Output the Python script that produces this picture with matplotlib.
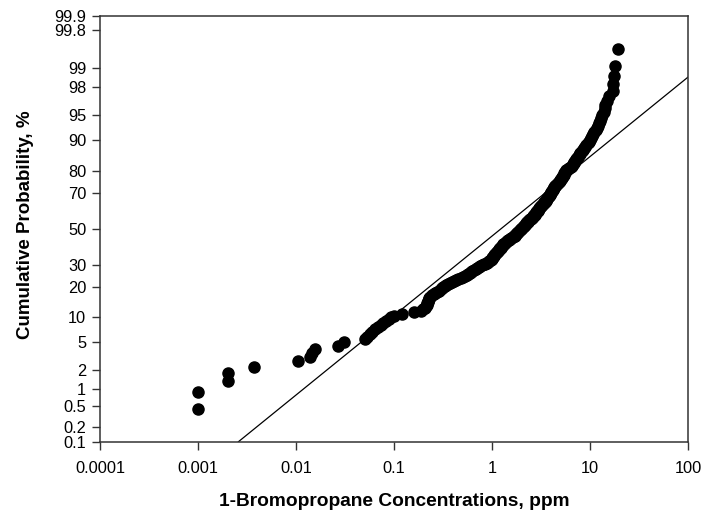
import numpy as np
import matplotlib
matplotlib.use("Agg")
import matplotlib.pyplot as plt
from matplotlib.ticker import FixedLocator, FixedFormatter, NullLocator
from statistics import NormalDist

# ---- data (sorted concentrations, ppm) ----
conc = [
    0.001, 0.001, 0.002, 0.002, 0.0037, 0.0105, 0.014, 0.0145, 0.0157, 0.027,
    0.031, 0.050, 0.053, 0.057, 0.060, 0.064, 0.068, 0.073, 0.078, 0.083,
    0.088, 0.094, 0.100, 0.12, 0.16, 0.19, 0.20, 0.205, 0.21, 0.215,
    0.218, 0.22, 0.222, 0.225, 0.23, 0.235, 0.245, 0.255, 0.265, 0.275,
    0.285, 0.30, 0.31, 0.32, 0.33, 0.34, 0.355, 0.37, 0.39, 0.41,
    0.43, 0.45, 0.48, 0.51, 0.53, 0.55, 0.57, 0.59, 0.61, 0.63,
    0.65, 0.68, 0.70, 0.73, 0.76, 0.79, 0.82, 0.85, 0.88, 0.91,
    0.94, 0.97, 0.99, 1.00, 1.01, 1.03, 1.04, 1.06, 1.08, 1.10,
    1.12, 1.13, 1.15, 1.17, 1.19, 1.21, 1.23, 1.25, 1.27, 1.29,
    1.31, 1.33, 1.36, 1.39, 1.42, 1.46, 1.50, 1.54, 1.58, 1.62,
    1.67, 1.70, 1.73, 1.76, 1.79, 1.82, 1.85, 1.88, 1.92, 1.96,
    2.00, 2.04, 2.08, 2.11, 2.14, 2.17, 2.21, 2.24, 2.28, 2.31,
    2.35, 2.39, 2.44, 2.49, 2.54, 2.60, 2.64, 2.68, 2.72, 2.76,
    2.80, 2.84, 2.88, 2.92, 2.96, 3.00, 3.04, 3.09, 3.14, 3.19,
    3.25, 3.31, 3.38, 3.43, 3.48, 3.53, 3.58, 3.63, 3.68, 3.73,
    3.78, 3.83, 3.88, 3.93, 3.98, 4.03, 4.09, 4.15, 4.20, 4.25,
    4.30, 4.35, 4.44, 4.53, 4.62, 4.71, 4.80, 4.90, 5.00, 5.08,
    5.16, 5.24, 5.32, 5.40, 5.48, 5.56, 5.64, 5.72, 5.95, 6.15,
    6.35, 6.50, 6.65, 6.80, 6.95, 7.10, 7.25, 7.40, 7.55, 7.70,
    7.85, 8.00, 8.20, 8.40, 8.60, 8.90, 9.20, 9.50, 9.80, 10.1,
    10.3, 10.5, 10.8, 11.1, 11.4, 11.7, 12.0, 12.3, 12.6, 13.0,
    13.4, 13.8, 14.1, 14.4, 15.0, 15.6, 17.2, 17.3, 17.4, 18.2,
    19.4,
]

# fitted lognormal reference line
geo_mean = 1.24     # ppm
geo_sd = 7.37

x_ticks = [0.0001, 0.001, 0.01, 0.1, 1, 10, 100]
x_tick_labels = ["0.0001", "0.001", "0.01", "0.1", "1", "10", "100"]
y_ticks = [0.1, 0.2, 0.5, 1, 2, 5, 10, 20, 30, 50, 70, 80, 90, 95, 98, 99, 99.8, 99.9]
y_tick_labels = ["0.1", "0.2", "0.5", "1", "2", "5", "10", "20", "30", "50",
                 "70", "80", "90", "95", "98", "99", "99.8", "99.9"]

# ---- probability scale ----
_nd = NormalDist()
_ppf = np.frompyfunc(lambda p: _nd.inv_cdf(min(max(p, 1e-9), 1 - 1e-9)), 1, 1)
_cdf = np.frompyfunc(lambda z: _nd.cdf(z), 1, 1)


def fwd(p):
    return np.asarray(_ppf(np.asarray(p, dtype=float) / 100.0), dtype=float)


def inv(z):
    return np.asarray(_cdf(np.asarray(z, dtype=float)), dtype=float) * 100.0


plt.rcParams['font.family'] = ['Liberation Sans', 'DejaVu Sans']

fig = plt.figure(figsize=(7.02, 5.16), dpi=100)
ax = fig.add_axes([0.1425, 0.144, 0.8375, 0.8257])

n = len(conc)
prob = [100.0 * (i + 1) / (n + 1) for i in range(n)]

# reference line
p_line = np.array([0.1, 99.9])
z_line = fwd(p_line)
x_line = geo_mean * geo_sd ** z_line
ax.plot(x_line, p_line, color='black', lw=0.9, zorder=2)

ax.plot(conc, prob, 'o', color='black', ms=8.0, mec='black', zorder=3, clip_on=False)

ax.set_xscale('log')
ax.set_yscale('function', functions=(fwd, inv))
ax.set_xlim(0.0001, 100)
ax.set_ylim(0.1, 99.9)

ax.xaxis.set_major_locator(FixedLocator(x_ticks))
ax.xaxis.set_major_formatter(FixedFormatter(x_tick_labels))
ax.xaxis.set_minor_locator(NullLocator())
ax.yaxis.set_major_locator(FixedLocator(y_ticks))
ax.yaxis.set_major_formatter(FixedFormatter(y_tick_labels))
ax.yaxis.set_minor_locator(NullLocator())

ax.tick_params(axis='both', direction='out', length=6, width=1, labelsize=11.8,
               color='#333333', pad=4)
ax.tick_params(axis='x', pad=8)
for s in ax.spines.values():
    s.set_color('#333333')
    s.set_linewidth(1.1)

ax.set_xlabel("1-Bromopropane Concentrations, ppm", fontsize=13.8, fontweight='bold', labelpad=12)
ax.set_ylabel("Cumulative Probability, %", fontsize=13.5, fontweight='bold')
ax.yaxis.set_label_coords(-0.112, 0.51)

fig.savefig("out.png", dpi=100)
